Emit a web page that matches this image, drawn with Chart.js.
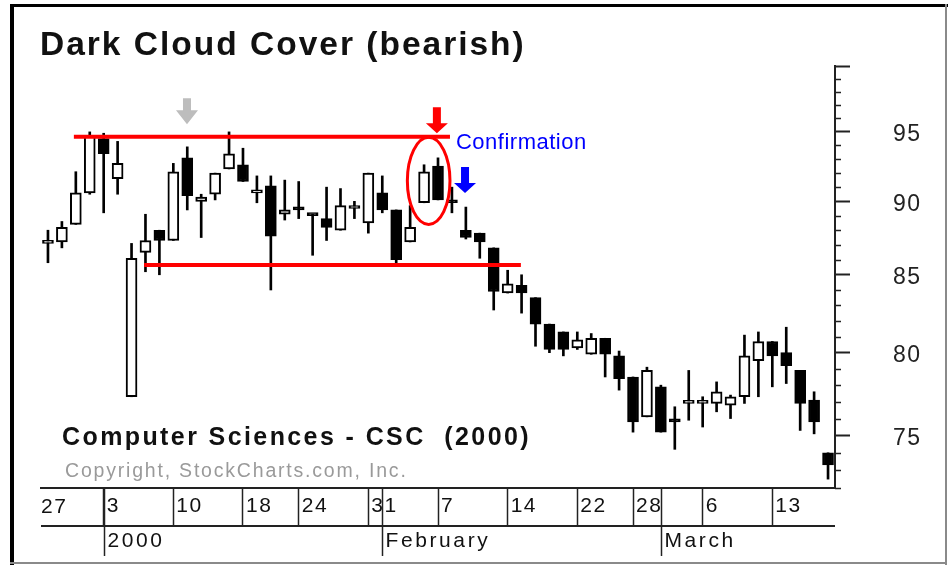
<!DOCTYPE html>
<html>
<head>
<meta charset="utf-8">
<title>Dark Cloud Cover (bearish)</title>
<script src="https://cdn.jsdelivr.net/npm/chart.js@4.4.1/dist/chart.umd.min.js"></script>
<style>
  html, body { margin: 0; padding: 0; background: #fff; overflow: hidden; }
  #wrap { position: relative; width: 948px; height: 565px; }
</style>
</head>
<body>
<div id="wrap"><canvas id="candleChart"></canvas></div>
<script>
// Computer Sciences - CSC, daily candles, Dec 1999 - Mar 2000
const dates = [
    '1999-12-28', '1999-12-29', '1999-12-30', '1999-12-31',
    '2000-01-03', '2000-01-04', '2000-01-05', '2000-01-06', '2000-01-07',
    '2000-01-10', '2000-01-11', '2000-01-12', '2000-01-13', '2000-01-14',
    '2000-01-18', '2000-01-19', '2000-01-20', '2000-01-21',
    '2000-01-24', '2000-01-25', '2000-01-26', '2000-01-27', '2000-01-28',
    '2000-01-31', '2000-02-01', '2000-02-02', '2000-02-03', '2000-02-04',
    '2000-02-07', '2000-02-08', '2000-02-09', '2000-02-10', '2000-02-11',
    '2000-02-14', '2000-02-15', '2000-02-16', '2000-02-17', '2000-02-18',
    '2000-02-22', '2000-02-23', '2000-02-24', '2000-02-25',
    '2000-02-28', '2000-02-29', '2000-03-01', '2000-03-02', '2000-03-03',
    '2000-03-06', '2000-03-07', '2000-03-08', '2000-03-09', '2000-03-10',
    '2000-03-13', '2000-03-14', '2000-03-15', '2000-03-16', '2000-03-17'
];
const opens = [
    87.1, 87.2, 88.4, 90.6,
    94.5, 91.6, 77.3, 86.5, 88.0,
    87.3, 93.1, 90.0, 90.5, 92.3,
    92.6, 90.6, 91.1, 89.1,
    89.5, 89.1, 88.8, 88.0, 89.5,
    88.5, 90.6, 89.4, 87.2, 89.9,
    92.5, 90.1, 88.0, 87.8, 86.8,
    83.8, 84.3, 83.5, 81.8, 81.3,
    80.3, 79.9, 80.9, 79.8,
    78.5, 76.1, 77.9, 75.9, 76.9,
    76.9, 76.9, 76.8, 77.3, 79.5,
    80.7, 80.0, 78.9, 77.1, 74.0
];
const highs = [
    88.0, 88.6, 92.1, 95.0,
    94.9, 94.3, 87.1, 89.1, 88.0,
    92.7, 93.9, 90.5, 92.0, 95.0,
    93.8, 91.8, 91.8, 91.5,
    91.4, 89.1, 91.0, 90.9, 90.0,
    92.0, 91.8, 89.4, 89.7, 92.6,
    93.1, 91.0, 89.6, 87.8, 86.8,
    85.3, 85.0, 83.5, 81.8, 81.3,
    81.3, 81.2, 80.9, 80.1,
    78.5, 79.1, 78.0, 76.7, 78.9,
    77.3, 78.2, 77.4, 81.1, 81.3,
    80.7, 81.6, 78.9, 77.6, 74.0
];
const lows = [
    85.8, 86.8, 88.4, 90.5,
    89.2, 90.5, 77.3, 85.2, 85.0,
    87.3, 89.4, 87.5, 90.1, 92.3,
    91.4, 89.9, 84.0, 88.7,
    88.8, 86.3, 87.3, 88.0, 88.8,
    87.8, 89.2, 85.7, 87.2, 89.9,
    90.1, 89.2, 87.4, 86.1, 82.7,
    83.8, 82.5, 80.4, 80.0, 79.8,
    80.2, 79.9, 78.5, 77.7,
    75.2, 76.1, 75.2, 74.2, 75.9,
    75.5, 76.4, 76.0, 76.9, 77.3,
    77.9, 78.1, 75.3, 75.1, 72.5
];
const closes = [
    87.1, 88.2, 90.6, 94.7,
    93.4, 92.7, 86.1, 87.3, 87.3,
    92.1, 90.4, 90.3, 92.0, 93.4,
    91.4, 90.8, 87.6, 89.4,
    89.4, 89.0, 88.2, 89.7, 89.6,
    92.0, 89.4, 86.0, 88.2, 92.1,
    90.1, 89.9, 87.5, 87.2, 83.9,
    84.4, 83.8, 81.8, 80.2, 80.2,
    80.8, 80.9, 79.9, 78.4,
    75.8, 78.9, 75.2, 75.8, 76.9,
    76.9, 77.6, 77.3, 79.8, 80.7,
    79.8, 79.2, 76.9, 75.8, 73.3
];

// axis ticks
const priceTicks = [72, 73, 74, 75, 76, 77, 78, 79, 80, 81, 82, 83, 84, 85, 86,
    87, 88, 89, 90, 91, 92, 93, 94, 95, 96, 97, 98, 99, 100];
const priceLabels = [75, 80, 85, 90, 95];
const weekStarts = ['1999-12-27', '2000-01-03', '2000-01-10', '2000-01-18', '2000-01-24',
    '2000-01-31', '2000-02-07', '2000-02-14', '2000-02-22', '2000-02-28', '2000-03-06', '2000-03-13'];
const monthStarts = ['2000-01-03', '2000-02-01', '2000-03-01'];
const monthNames = ['2000', 'February', 'March'];

// annotations (x in candle index units, y in price)
const resistance = { price: 94.65, from: 1.86, to: 28.86 };
const support = { price: 85.65, from: 6.9, to: 33.95 };
const circled = { from: 25.8, to: 28.86, top: 94.6, bottom: 88.4 };
const arrows = [
    { at: 9.98, tip: 95.57, color: '#bdbdbd', head: 14 },
    { at: 27.92, tip: 94.9, color: '#ff0000', head: 10 },
    { at: 29.94, tip: 90.58, color: '#0000ff', head: 10 }
];

const FONT = "'Liberation Sans', Arial, Helvetica, sans-serif";

function drawArrow(ctx, cx, tip, len, head, color) {
    const shaft = 8, headW = 22;
    ctx.fillStyle = color;
    ctx.beginPath();
    ctx.moveTo(cx - shaft / 2, tip - len);
    ctx.lineTo(cx + shaft / 2, tip - len);
    ctx.lineTo(cx + shaft / 2, tip - head);
    ctx.lineTo(cx + headW / 2, tip - head);
    ctx.lineTo(cx, tip);
    ctx.lineTo(cx - headW / 2, tip - head);
    ctx.lineTo(cx - shaft / 2, tip - head);
    ctx.closePath();
    ctx.fill();
}

function spacedText(ctx, text, x, y, font, color, spacing) {
    ctx.save();
    ctx.font = font;
    ctx.fillStyle = color;
    ctx.letterSpacing = spacing + 'px';
    ctx.textAlign = 'left';
    ctx.textBaseline = 'alphabetic';
    ctx.fillText(text, x, y);
    ctx.restore();
}

const decor = {
    id: 'decor',
    beforeDraw(chart) {
        const ctx = chart.ctx;
        ctx.save();
        ctx.fillStyle = '#fff';
        ctx.fillRect(0, 0, chart.width, chart.height);
        // bevelled frame
        ctx.fillStyle = '#000';
        ctx.fillRect(10, 4, 4, 561);
        ctx.fillRect(10, 4, 938, 3);
        ctx.fillStyle = '#8a8a8a';
        ctx.fillRect(945, 4, 2, 561);
        ctx.fillRect(10, 562, 937, 2);
        ctx.restore();
        ctx.letterSpacing = '1.5px';
    },
    afterDatasetsDraw(chart) {
        const { ctx, scales: { x, y } } = chart;
        ctx.save();
        ctx.strokeStyle = '#ff0000';
        ctx.lineWidth = 4;
        ctx.lineCap = 'butt';
        [resistance, support].forEach(l => {
            const py = y.getPixelForValue(l.price);
            ctx.beginPath();
            ctx.moveTo(x.getPixelForValue(l.from), py);
            ctx.lineTo(x.getPixelForValue(l.to), py);
            ctx.stroke();
        });

        // ellipse round the two candles
        const x0 = x.getPixelForValue(circled.from), x1 = x.getPixelForValue(circled.to);
        const y0 = y.getPixelForValue(circled.top), y1 = y.getPixelForValue(circled.bottom);
        ctx.lineWidth = 3;
        ctx.beginPath();
        ctx.ellipse((x0 + x1) / 2, (y0 + y1) / 2, (x1 - x0) / 2, (y1 - y0) / 2, 0, 0, Math.PI * 2);
        ctx.stroke();

        arrows.forEach(a => {
            drawArrow(ctx, x.getPixelForValue(a.at), y.getPixelForValue(a.tip), 26, a.head, a.color);
        });
        ctx.restore();

        spacedText(ctx, 'Confirmation', x.getPixelForValue(resistance.to) + 6,
            y.getPixelForValue(resistance.price) + 12, '22px ' + FONT, '#0000ff', 0.5);
    },
    afterDraw(chart) {
        const { ctx, scales: { x, y } } = chart;
        ctx.save();
        ctx.strokeStyle = '#222';

        // minor price ticks
        ctx.lineWidth = 1.5;
        ctx.beginPath();
        y.ticks.forEach(t => {
            if (t.value % 5 === 0) return;
            const py = Math.round(y.getPixelForValue(t.value)) + 0.5;
            ctx.moveTo(y.left, py);
            ctx.lineTo(y.left + 6, py);
        });
        ctx.stroke();

        // lower edge of the week row
        const rowY = x.top + 38;
        ctx.lineWidth = 2;
        ctx.beginPath();
        ctx.moveTo(x.left, rowY);
        ctx.lineTo(x.right, rowY);
        ctx.stroke();

        // month separators and names
        ctx.lineWidth = 1.5;
        monthStarts.forEach((d, i) => {
            const px = Math.round(x.getPixelForValue(dates.indexOf(d))) + 0.5;
            ctx.beginPath();
            ctx.moveTo(px, x.top);
            ctx.lineTo(px, x.top + 68);
            ctx.stroke();
            spacedText(ctx, monthNames[i], px + 3, x.top + 59, '21px ' + FONT, '#111', 2.6);
        });

        // week that started before the first candle, clipped at the axis start
        ctx.beginPath();
        ctx.rect(x.left, x.top, x.right - x.left, 38);
        ctx.clip();
        weekStarts.filter(d => d < dates[0]).forEach(d => {
            spacedText(ctx, String(Number(d.slice(8))), x.left, x.top + 25, '21px ' + FONT, '#111', 1.5);
        });
        ctx.restore();

        spacedText(ctx, 'Dark Cloud Cover (bearish)', 40, 55, 'bold 33.5px ' + FONT, '#111', 2);
        spacedText(ctx, 'Computer Sciences - CSC  (2000)', 62, 445, 'bold 25px ' + FONT, '#111', 2.4);
        spacedText(ctx, 'Copyright, StockCharts.com, Inc.', 65, 477, '19.5px ' + FONT, '#9a9a9a', 1.8);
    }
};

const ctx = document.getElementById('candleChart').getContext('2d');
new Chart(ctx, {
    type: 'bar',
    data: {
        labels: dates,
        datasets: [
            {
                label: 'Body',
                data: opens.map((o, i) => [Math.min(o, closes[i]), Math.max(o, closes[i])]),
                backgroundColor: opens.map((o, i) => closes[i] >= o ? '#ffffff' : '#000000'),
                borderColor: '#000000',
                borderWidth: 2,
                borderSkipped: false,
                barThickness: 11,
                minBarLength: 3,
                grouped: false,
                order: 0
            },
            {
                label: 'Range',
                data: lows.map((l, i) => [l, highs[i]]),
                backgroundColor: '#000000',
                borderWidth: 0,
                barThickness: 2,
                grouped: false,
                order: 1
            }
        ]
    },
    options: {
        responsive: true,
        maintainAspectRatio: false,
        animation: false,
        events: [],
        layout: { padding: { left: 41, top: 66, right: 0, bottom: 0 } },
        plugins: {
            legend: { display: false },
            tooltip: { enabled: false }
        },
        scales: {
            x: {
                type: 'category',
                offset: true,
                grid: {
                    drawOnChartArea: false,
                    offset: false,
                    tickLength: 38,
                    tickWidth: 1.5,
                    tickColor: c => weekStarts.includes(dates[c.index]) ? '#222' : 'rgba(0,0,0,0)'
                },
                border: { display: true, color: '#222', width: 2 },
                ticks: {
                    autoSkip: false,
                    maxRotation: 0,
                    minRotation: 0,
                    align: 'start',
                    padding: -32,
                    labelOffset: 3,
                    color: '#111',
                    font: { family: FONT, size: 21 },
                    callback: (v, i) => weekStarts.includes(dates[i]) ? String(Number(dates[i].slice(8))) : ''
                },
                afterFit: s => { s.height = 77; s.paddingLeft = 0; s.paddingRight = 0; }
            },
            y: {
                type: 'logarithmic',
                position: 'right',
                min: 72,
                max: 100,
                bounds: 'data',
                afterBuildTicks: s => { s.ticks = priceTicks.map(v => ({ value: v })); },
                grid: {
                    drawOnChartArea: false,
                    tickLength: 15,
                    tickWidth: 2,
                    tickColor: c => c.tick && c.tick.value % 5 === 0 ? '#222' : 'rgba(0,0,0,0)'
                },
                border: { display: true, color: '#222', width: 2 },
                ticks: {
                    autoSkip: false,
                    padding: 43,
                    labelOffset: 3,
                    color: '#222',
                    font: { family: FONT, size: 23 },
                    callback: v => priceLabels.includes(v) ? String(v) : ''
                },
                afterFit: s => { s.width = 113; s.paddingTop = 0; s.paddingBottom = 0; }
            }
        }
    },
    plugins: [decor]
});
</script>
</body>
</html>
